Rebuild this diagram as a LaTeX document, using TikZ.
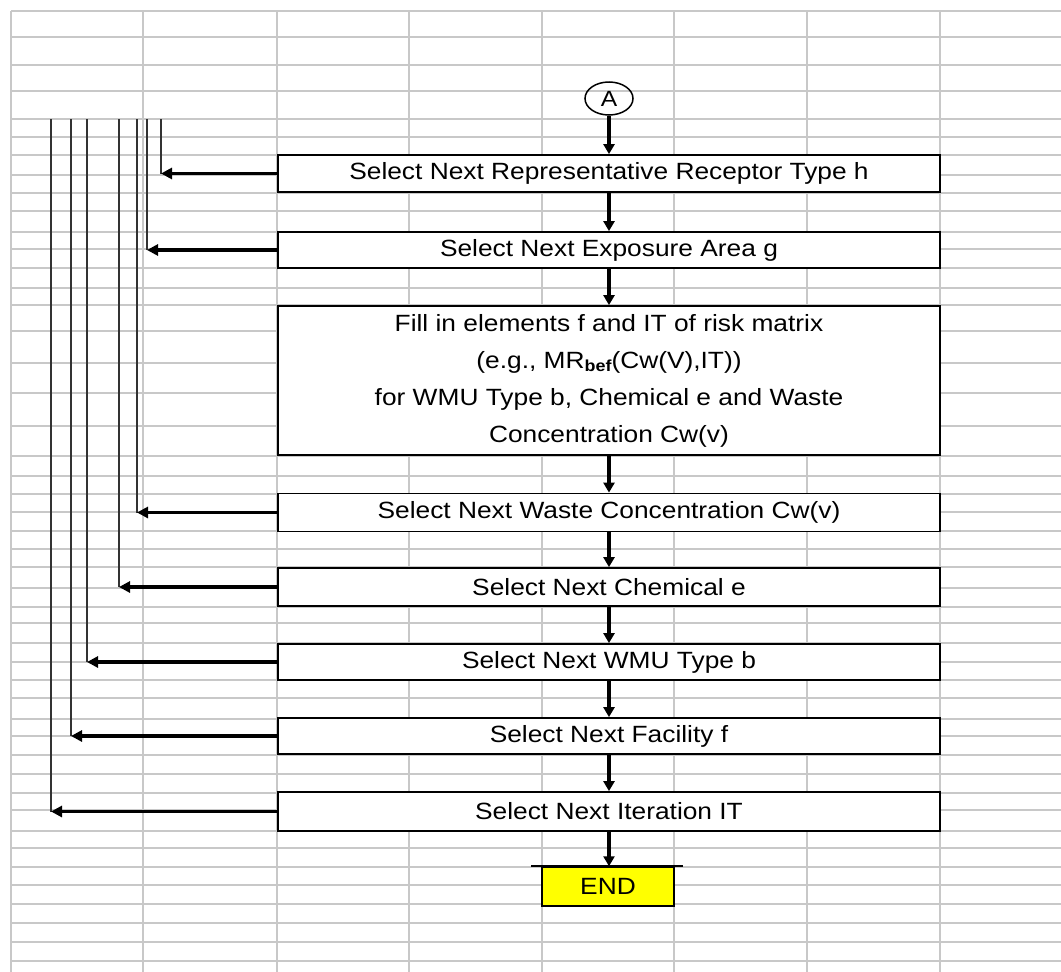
\documentclass[tikz,border=0pt]{standalone}
\usepackage{fontspec}
\setmainfont{Liberation Sans}[FakeStretch=1.12]
\usetikzlibrary{arrows.meta,shapes.geometric}
\definecolor{gridgray}{RGB}{200,200,200}
\definecolor{fbgray}{RGB}{50,50,50}
\definecolor{endyellow}{RGB}{255,255,0}
\begin{document}
\begin{tikzpicture}[x=1pt,y=-1pt,
  gridline/.style={draw=gridgray,line width=1.5pt},
  gridthick/.style={draw=gridgray,line width=2.8pt},
  stepbox/.style={draw=black,fill=white,line width=1.8pt,minimum width=662pt,
    inner sep=0pt,font=\fontsize{23.5}{27}\selectfont},
  bigbox/.style={stepbox,align=center,font=\fontsize{23.5}{37}\selectfont},
  endbox/.style={draw=black,fill=endyellow,line width=1.5pt,minimum width=132pt,
    minimum height=39pt,inner sep=0pt,font=\fontsize{23.5}{27}\selectfont},
  conn/.style={draw=black,line width=1.5pt,ellipse,minimum width=48pt,
    minimum height=33pt,inner sep=0pt,font=\fontsize{22}{24}\selectfont},
  darrow/.style={draw=black,line width=3.5pt,-{Triangle[width=11pt,length=10pt]}},
  larrow/.style={draw=black,line width=3.5pt,-{Triangle[width=11pt,length=11pt]}},
  fbline/.style={draw=fbgray,line width=2.2pt}
]
\useasboundingbox (0,0) rectangle (1061,972);
\fill[white] (0,0) rectangle (1061,972);
% spreadsheet grid
\foreach \yy in {11,65,91,119,137,155,175,193,211,232,249,268,288,305,331,363,393,426,456,476,494,512,531,549,567,588,607,623,643,662,680,698,719,736,755,774,793,810,831,848,867,885,904,923,942,961}
  \draw[gridline] (11,\yy) -- (1061,\yy);
\draw[gridthick] (11,37) -- (1061,37);
\foreach \xx in {11,143,277,409,542,674,940}
  \draw[gridline] (\xx,11) -- (\xx,972);
\draw[gridthick] (807,11) -- (807,972);

% connector and boxes
\node[conn] (A) at (609,98.5) {A};
\node[stepbox,minimum height=37pt] (b1) at (609,173.5) {Select Next Representative Receptor Type h};
\node[stepbox,minimum height=36pt] (b2) at (609,250) {Select Next Exposure Area g};
\node[bigbox,minimum height=149pt] (b3) at (609,380.5) {Fill in elements f and IT of risk matrix\\(e.g., MR\raisebox{-0.3ex}{\fontsize{16}{16}\selectfont\bfseries bef}(Cw(V),IT))\\for WMU Type b, Chemical e and Waste\\Concentration Cw(v)};
\node[stepbox,minimum height=38pt] (b4) at (609,512.5) {Select Next Waste Concentration Cw(v)};
\node[stepbox,minimum height=38pt] (b5) at (609,587) {Select Next Chemical e};
\node[stepbox,minimum height=36pt] (b6) at (609,662) {Select Next WMU Type b};
\node[stepbox,minimum height=36pt] (b7) at (609,736) {Select Next Facility f};
\node[stepbox,minimum height=39pt] (b8) at (609,811.5) {Select Next Iteration IT};
\node[endbox] (end) at (608,886.5) {END};
\draw[line width=2pt] ([xshift=-10pt]end.north west) -- ([xshift=8pt]end.north east);

% top coordinates of the feedback lines
\coordinate (t1) at (161,119);
\coordinate (t2) at (147,119);
\coordinate (t4) at (137,119);
\coordinate (t5) at (119,119);
\coordinate (t6) at (87,119);
\coordinate (t7) at (71,119);
\coordinate (t8) at (51,119);

% vertical feedback lines
\foreach \i in {1,2,4,5,6,7,8}
  \draw[fbline] (t\i) -- (b\i.west -| t\i);

% down arrows
\draw[darrow] (A.south) -- (A.south |- b1.north);
\draw[darrow] (b1.south -| A) -- (b2.north -| A);
\draw[darrow] (b2.south -| A) -- (b3.north -| A);
\draw[darrow] (b3.south -| A) -- (b4.north -| A);
\draw[darrow] (b4.south -| A) -- (b5.north -| A);
\draw[darrow] (b5.south -| A) -- (b6.north -| A);
\draw[darrow] (b6.south -| A) -- (b7.north -| A);
\draw[darrow] (b7.south -| A) -- (b8.north -| A);
\draw[darrow] (b8.south -| A) -- (end.north -| A);

% left arrows
\foreach \i in {1,2,4,5,6,7,8}
  \draw[larrow] (b\i.west) -- (b\i.west -| t\i);
\end{tikzpicture}
\end{document}
